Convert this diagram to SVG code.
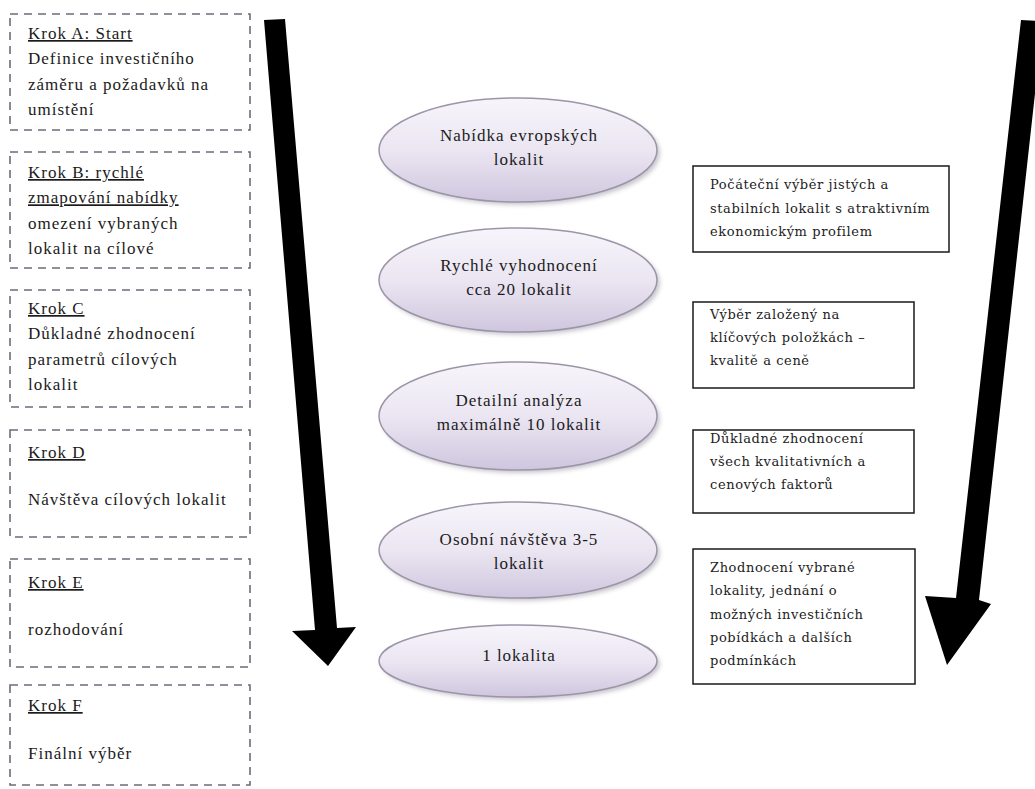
<svg xmlns="http://www.w3.org/2000/svg" width="1035" height="789" viewBox="0 0 1035 789">
<defs>
<linearGradient id="ell" x1="0" y1="0" x2="0" y2="1">
<stop offset="0" stop-color="#f7f5fb"/>
<stop offset="0.5" stop-color="#ebe6f2"/>
<stop offset="1" stop-color="#cfc6de"/>
</linearGradient>
<filter id="sh" x="-10%" y="-10%" width="130%" height="140%">
<feGaussianBlur stdDeviation="2"/>
</filter>
</defs>
<style>
.step{fill:#ffffff;stroke:#6f6a7a;stroke-width:1.6;stroke-dasharray:8 6}
.lt{font-family:"Liberation Serif","Times New Roman",serif;font-size:17px;letter-spacing:1px;fill:#1b1b1b}
.u{text-decoration:underline}
.el{fill:url(#ell);stroke:#9c95a8;stroke-width:1.5}
.els{fill:#8a8496;opacity:0.45;filter:url(#sh)}
.et{font-family:"Liberation Serif","Times New Roman",serif;font-size:17px;letter-spacing:1px;fill:#1b1b1b;text-anchor:middle}
.box{fill:#ffffff;stroke:#1a1a1a;stroke-width:1.5}
.rt{font-family:"DejaVu Serif",serif;font-size:13px;letter-spacing:0.6px;fill:#222222}
.arr{fill:#000000}
</style>
<rect width="1035" height="789" fill="#ffffff"/>

<g id="connectors">
<polygon class="arr" points="264,20 285,19 337,628 356,627 328,666 292,631 315,630"/>
<polygon class="arr" points="1021,20 1043,21 979,600 991,604 947,665 925,596 956,598"/>
</g>

<g id="stepA">
<rect class="step" x="10" y="14" width="240" height="116"/>
<text class="lt" x="28" y="39"><tspan class="u">Krok A: Start</tspan><tspan x="28" dy="25.3">Definice investičního</tspan><tspan x="28" dy="25.3">záměru a požadavků na</tspan><tspan x="28" dy="25.3">umístění</tspan></text>
</g>
<g id="stepB">
<rect class="step" x="10" y="152" width="240" height="116"/>
<text class="lt" x="28" y="178"><tspan class="u">Krok B: rychlé</tspan><tspan class="u" x="28" dy="25.3">zmapování nabídky</tspan><tspan x="28" dy="25.3">omezení vybraných</tspan><tspan x="28" dy="25.3">lokalit na cílové</tspan></text>
</g>
<g id="stepC">
<rect class="step" x="10" y="290" width="240" height="117"/>
<text class="lt" x="28" y="314"><tspan class="u">Krok C</tspan><tspan x="28" dy="25.3">Důkladné zhodnocení</tspan><tspan x="28" dy="25.3">parametrů cílových</tspan><tspan x="28" dy="25.3">lokalit</tspan></text>
</g>
<g id="stepD">
<rect class="step" x="10" y="430" width="240" height="107"/>
<text class="lt" x="28" y="458"><tspan class="u">Krok D</tspan></text>
<text class="lt" x="28" y="505">Návštěva cílových lokalit</text>
</g>
<g id="stepE">
<rect class="step" x="10" y="559" width="240" height="108"/>
<text class="lt" x="28" y="588"><tspan class="u">Krok E</tspan></text>
<text class="lt" x="28" y="635">rozhodování</text>
</g>
<g id="stepF">
<rect class="step" x="10" y="685" width="240" height="100"/>
<text class="lt" x="28" y="711"><tspan class="u">Krok F</tspan></text>
<text class="lt" x="28" y="759">Finální výběr</text>
</g>

<g id="e1">
<ellipse class="els" cx="521" cy="153" rx="139" ry="52"/>
<ellipse class="el" cx="518" cy="150" rx="139" ry="52"/>
<text class="et" x="519" y="141">Nabídka evropských</text>
<text class="et" x="519" y="165">lokalit</text>
</g>
<g id="e2">
<ellipse class="els" cx="521" cy="283" rx="139" ry="52"/>
<ellipse class="el" cx="518" cy="280" rx="139" ry="52"/>
<text class="et" x="519" y="271">Rychlé vyhodnocení</text>
<text class="et" x="519" y="295">cca 20 lokalit</text>
</g>
<g id="e3">
<ellipse class="els" cx="521" cy="419" rx="139" ry="54"/>
<ellipse class="el" cx="518" cy="416" rx="139" ry="54"/>
<text class="et" x="519" y="406">Detailní analýza</text>
<text class="et" x="519" y="430">maximálně 10 lokalit</text>
</g>
<g id="e4">
<ellipse class="els" cx="521" cy="553" rx="139" ry="48"/>
<ellipse class="el" cx="518" cy="550" rx="139" ry="48"/>
<text class="et" x="519" y="545">Osobní návštěva 3-5</text>
<text class="et" x="519" y="569">lokalit</text>
</g>
<g id="e5">
<ellipse class="els" cx="521" cy="664" rx="139" ry="36"/>
<ellipse class="el" cx="518" cy="661" rx="139" ry="36"/>
<text class="et" x="519" y="661">1 lokalita</text>
</g>

<g id="r1">
<rect class="box" x="693" y="166" width="256" height="86"/>
<text class="rt" x="710" y="189"><tspan>Počáteční výběr jistých a</tspan><tspan x="710" dy="23.5">stabilních lokalit s atraktivním</tspan><tspan x="710" dy="23.5">ekonomickým profilem</tspan></text>
</g>
<g id="r2">
<rect class="box" x="693" y="302" width="221" height="86"/>
<text class="rt" x="710" y="319"><tspan>Výběr založený na</tspan><tspan x="710" dy="23">klíčových položkách –</tspan><tspan x="710" dy="23">kvalitě a ceně</tspan></text>
</g>
<g id="r3">
<rect class="box" x="693" y="430" width="221" height="83"/>
<text class="rt" x="710" y="443"><tspan>Důkladné zhodnocení</tspan><tspan x="710" dy="23">všech kvalitativních a</tspan><tspan x="710" dy="23">cenových faktorů</tspan></text>
</g>
<g id="r4">
<rect class="box" x="693" y="549" width="222" height="135"/>
<text class="rt" x="710" y="572"><tspan>Zhodnocení vybrané</tspan><tspan x="710" dy="23.3">lokality, jednání o</tspan><tspan x="710" dy="23.3">možných investičních</tspan><tspan x="710" dy="23.3">pobídkách a dalších</tspan><tspan x="710" dy="23.3">podmínkách</tspan></text>
</g>
</svg>
